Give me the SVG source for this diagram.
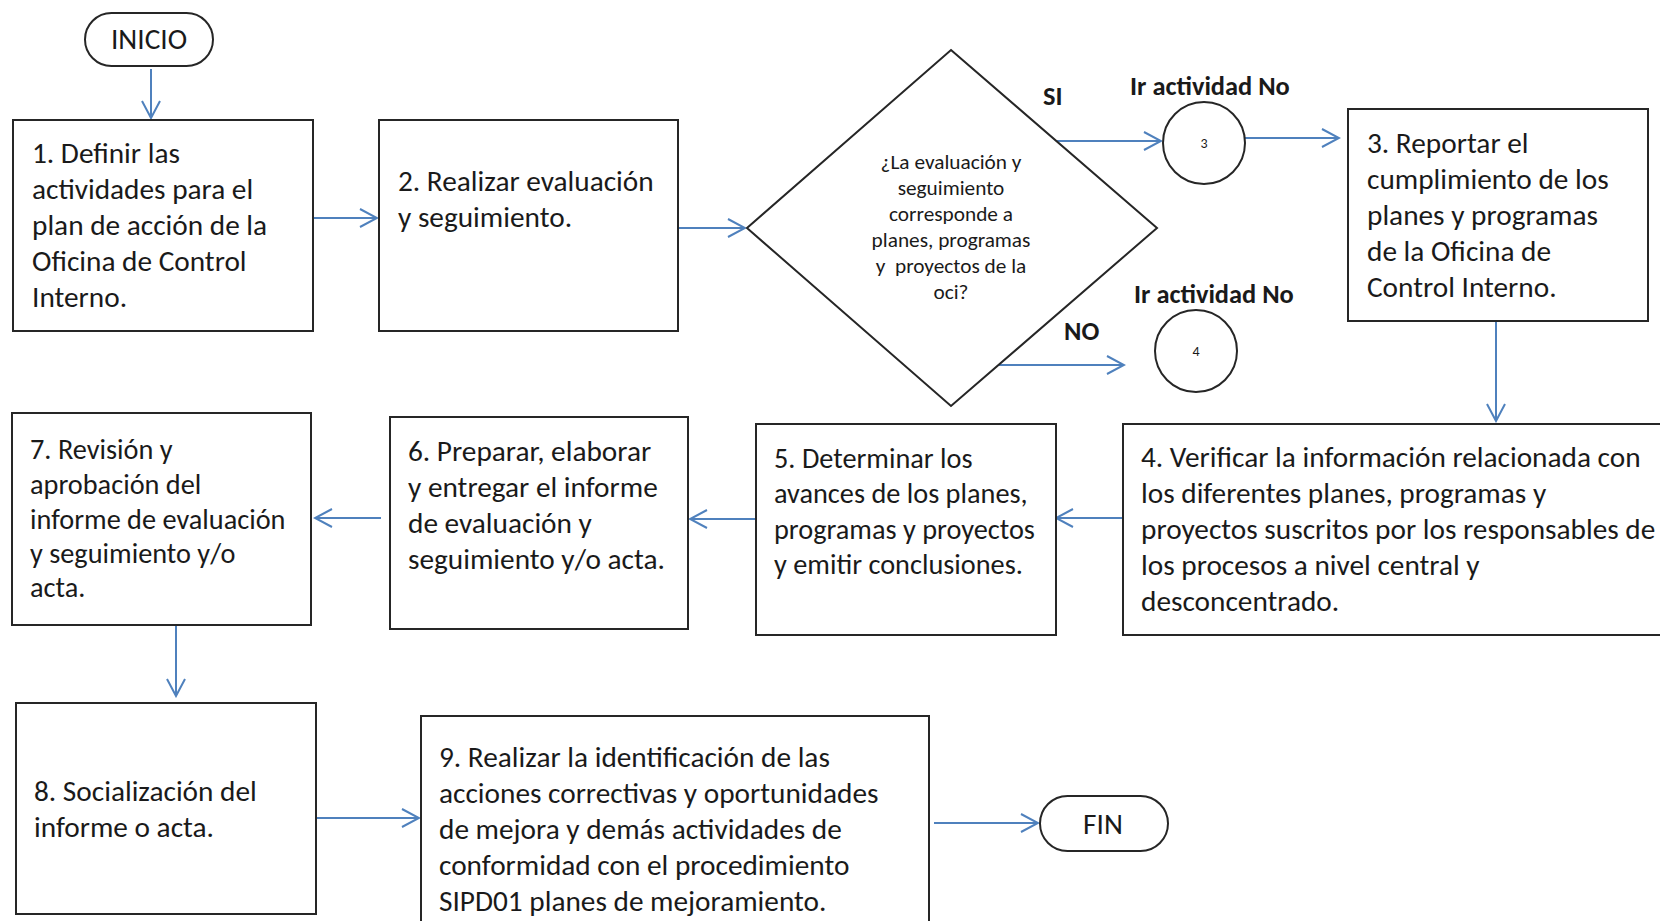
<svg xmlns="http://www.w3.org/2000/svg" width="1660" height="921" viewBox="0 0 1660 921">
<defs>
<marker id="arr" viewBox="0 0 20 20" refX="18" refY="10" markerWidth="20" markerHeight="20" markerUnits="userSpaceOnUse" orient="auto">
<path d="M1,1 L18,10 L1,19" fill="none" stroke="#4F81BD" stroke-width="2"/>
</marker>
<style>
.box{fill:#fff;stroke:#262626;stroke-width:2}
.t{font-family:Carlito,Calibri,Lato,"Open Sans",sans-serif;font-size:29.3px;fill:#1a1a1a}
.s{font-size:28.3px}
.q{font-family:Carlito,Calibri,Lato,"Open Sans",sans-serif;font-size:21.3px;fill:#1a1a1a;text-anchor:middle}
.b{font-family:Carlito,Calibri,Lato,"Open Sans",sans-serif;font-size:26.4px;font-weight:bold;fill:#1a1a1a}
.c{font-family:Carlito,Calibri,Lato,"Open Sans",sans-serif;font-size:14px;fill:#1a1a1a;text-anchor:middle}
.ln{fill:none;stroke:#4F81BD;stroke-width:2;marker-end:url(#arr)}
</style>
</defs>
<rect width="1660" height="921" fill="#fff"/>
<g id="connectors">
<line class="ln" x1="151" y1="69" x2="151" y2="118"/>
<line class="ln" x1="313" y1="218" x2="377" y2="218"/>
<line class="ln" x1="678" y1="228" x2="745" y2="228"/>
<line class="ln" x1="1057" y1="141" x2="1161" y2="141"/>
<line class="ln" x1="999" y1="365" x2="1124" y2="365"/>
<line class="ln" x1="1245" y1="138" x2="1339" y2="138"/>
<line class="ln" x1="1496" y1="321" x2="1496" y2="421"/>
<line class="ln" x1="1123" y1="518" x2="1056" y2="518"/>
<line class="ln" x1="756" y1="519" x2="690" y2="519"/>
<line class="ln" x1="381" y1="518" x2="315" y2="518"/>
<line class="ln" x1="176" y1="625" x2="176" y2="696"/>
<line class="ln" x1="316" y1="818" x2="419" y2="818"/>
<line class="ln" x1="934" y1="823" x2="1038" y2="823"/>
</g>
<g id="inicio">
<rect class="box" x="85" y="13" width="128" height="53" rx="26.5"/>
<text class="t" x="149" y="49" text-anchor="middle" font-size="27.3">INICIO</text>
</g>
<g id="n1">
<rect class="box" x="13" y="120" width="300" height="211"/>
<text class="t"><tspan x="32" y="163">1. Definir las</tspan><tspan x="32" y="199">actividades para el</tspan><tspan x="32" y="235">plan de acción de la</tspan><tspan x="32" y="271">Oficina de Control</tspan><tspan x="32" y="307">Interno.</tspan></text>
</g>
<g id="n2">
<rect class="box" x="379" y="120" width="299" height="211"/>
<text class="t"><tspan x="398" y="191">2. Realizar evaluación</tspan><tspan x="398" y="227">y seguimiento.</tspan></text>
</g>
<g id="decision">
<polygon points="951,50 1157,228 951,406 747,228" fill="#fff" stroke="#262626" stroke-width="2"/>
<text class="q"><tspan x="951" y="169">¿La evaluación y</tspan><tspan x="951" y="195">seguimiento</tspan><tspan x="951" y="221">corresponde a</tspan><tspan x="951" y="247">planes, programas</tspan><tspan x="951" y="273" xml:space="preserve">y  proyectos de la</tspan><tspan x="951" y="299">oci?</tspan></text>
<text class="b" x="1043" y="105">SI</text>
<text class="b" x="1064" y="340" font-size="28.5">NO</text>
</g>
<g id="c3">
<text class="b" x="1130" y="95">Ir actividad No</text>
<circle cx="1204" cy="143" r="41" fill="#fff" stroke="#262626" stroke-width="2"/>
<text class="c" x="1204" y="148">3</text>
</g>
<g id="c4">
<text class="b" x="1134" y="303">Ir actividad No</text>
<circle cx="1196" cy="351" r="41" fill="#fff" stroke="#262626" stroke-width="2"/>
<text class="c" x="1196" y="356">4</text>
</g>
<g id="n3">
<rect class="box" x="1348" y="109" width="300" height="212"/>
<text class="t"><tspan x="1367" y="153">3. Reportar el</tspan><tspan x="1367" y="189">cumplimiento de los</tspan><tspan x="1367" y="225">planes y programas</tspan><tspan x="1367" y="261">de la Oficina de</tspan><tspan x="1367" y="297">Control Interno.</tspan></text>
</g>
<g id="n4">
<rect class="box" x="1123" y="424" width="560" height="211"/>
<text class="t"><tspan x="1141" y="467">4. Verificar la información relacionada con</tspan><tspan x="1141" y="503">los diferentes planes, programas y</tspan><tspan x="1141" y="539">proyectos suscritos por los responsables de</tspan><tspan x="1141" y="575">los procesos a nivel central y</tspan><tspan x="1141" y="611">desconcentrado.</tspan></text>
</g>
<g id="n5">
<rect class="box" x="756" y="424" width="300" height="211"/>
<text class="t s"><tspan x="774" y="468">5. Determinar los</tspan><tspan x="774" y="503">avances de los planes,</tspan><tspan x="774" y="539">programas y proyectos</tspan><tspan x="774" y="574">y emitir conclusiones.</tspan></text>
</g>
<g id="n6">
<rect class="box" x="390" y="417" width="298" height="212"/>
<text class="t"><tspan x="408" y="461">6. Preparar, elaborar</tspan><tspan x="408" y="497">y entregar el informe</tspan><tspan x="408" y="533">de evaluación y</tspan><tspan x="408" y="569">seguimiento y/o acta.</tspan></text>
</g>
<g id="n7">
<rect class="box" x="12" y="413" width="299" height="212"/>
<text class="t s"><tspan x="30" y="459">7. Revisión y</tspan><tspan x="30" y="494">aprobación del</tspan><tspan x="30" y="529">informe de evaluación</tspan><tspan x="30" y="563">y seguimiento y/o</tspan><tspan x="30" y="597">acta.</tspan></text>
</g>
<g id="n8">
<rect class="box" x="16" y="703" width="300" height="211"/>
<text class="t"><tspan x="34" y="801">8. Socialización del</tspan><tspan x="34" y="837">informe o acta.</tspan></text>
</g>
<g id="n9">
<rect class="box" x="421" y="716" width="508" height="220"/>
<text class="t"><tspan x="439" y="767">9. Realizar la identificación de las</tspan><tspan x="439" y="803">acciones correctivas y oportunidades</tspan><tspan x="439" y="839">de mejora y demás actividades de</tspan><tspan x="439" y="875">conformidad con el procedimiento</tspan><tspan x="439" y="911">SIPD01 planes de mejoramiento.</tspan></text>
</g>
<g id="fin">
<rect class="box" x="1040" y="796" width="128" height="55" rx="27.5"/>
<text class="t" x="1103" y="834" text-anchor="middle" font-size="27.3">FIN</text>
</g>
</svg>
